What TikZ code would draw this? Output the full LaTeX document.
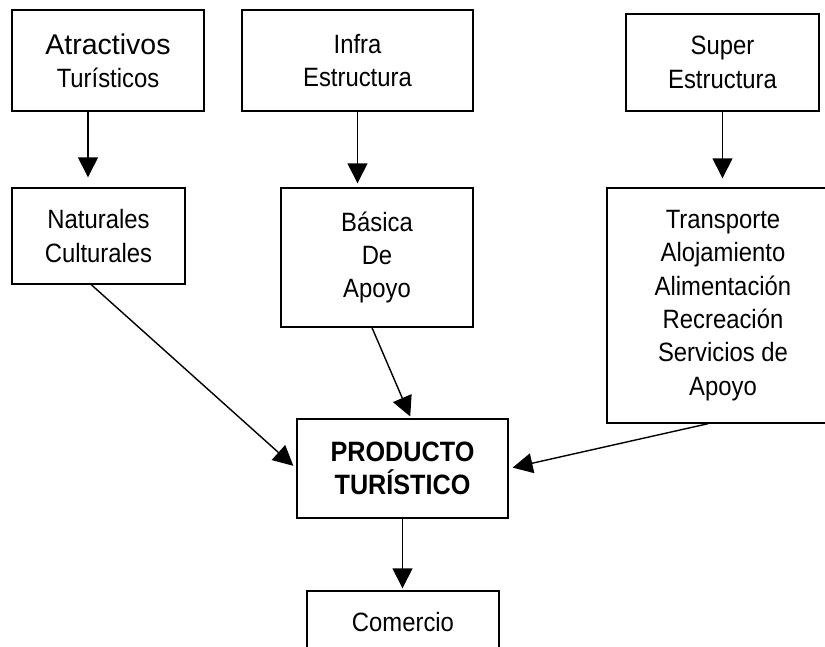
\documentclass[tikz,border=0pt]{standalone}
\usepackage{fontspec}
\setmainfont{Liberation Sans}
\newfontfamily\nf{Liberation Sans}[FakeStretch=0.9]
\newfontfamily\wf{Liberation Sans}
\usetikzlibrary{arrows.meta}
\begin{document}
\begin{tikzpicture}[x=1pt,y=-1pt,
  box/.style={draw, line width=1.4pt, inner sep=0pt, align=center,
    font=\nf\fontsize{26.5}{33.4}\selectfont},
  arr/.style={line width=1.4pt, -{Triangle[length=20pt,width=20pt]}}]
\fill[white] (0,0) rectangle (825,646);
\clip (0,0) rectangle (825,646);
% boxes
\node[box, minimum width=192pt, minimum height=101pt] (atr) at (108,60.5)
  {{\wf\fontsize{28.5}{33.4}\selectfont Atractivos}\\Turísticos};
\node[box, minimum width=173pt, minimum height=96pt] (nat) at (98.5,236)
  {Naturales\\Culturales};
\node[box, minimum width=231pt, minimum height=101pt] (inf) at (357.5,60.5)
  {Infra\\Estructura};
\node[box, minimum width=192pt, minimum height=139pt] (bas) at (377,257.5)
  {Básica\\De\\Apoyo};
\node[box, minimum width=193pt, minimum height=97pt] (sup) at (722.5,62.5)
  {Super\\Estructura};
\node[box, minimum width=232pt, minimum height=235pt] (tra) at (723,305.5)
  {Transporte\\Alojamiento\\Alimentación\\Recreación\\Servicios de\\Apoyo};
\node[box, minimum width=211pt, minimum height=99pt,
  font=\nf\bfseries\fontsize{28}{33.4}\selectfont] (prod) at (402.5,468.5)
  {PRODUCTO\\TURÍSTICO};
\node[box, minimum width=192pt, minimum height=62pt] (com) at (403,622)
  {Comercio};
% connector end points
\coordinate (a1) at ([xshift=-20pt]atr.south);
\coordinate (n1) at ([xshift=80pt]nat.south west);
\coordinate (b1) at ([xshift=-5pt]bas.south);
\coordinate (p1) at ([xshift=8.5pt]prod.north);
\coordinate (t1) at ([xshift=-15pt]tra.south);
% connectors
\draw[arr, shorten >=10pt] (a1) -- (a1 |- nat.north);
\draw[arr, shorten >=4pt] (inf.south) -- (inf.south |- bas.north);
\draw[arr, shorten >=9pt] (sup.south) -- (sup.south |- tra.north);
\draw[arr, shorten >=2pt] (prod.south) -- (prod.south |- com.north);
\draw[arr, shorten >=4pt] (n1) -- (prod.west);
\draw[arr, shorten >=2pt] (b1) -- (p1);
\draw[arr, shorten >=4pt] (t1) -- (prod.east);
\end{tikzpicture}
\end{document}
